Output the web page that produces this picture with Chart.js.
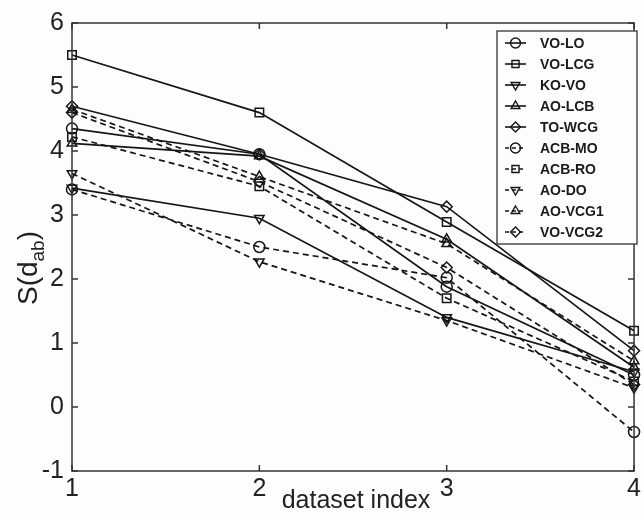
<!DOCTYPE html>
<html>
<head>
<meta charset="utf-8">
<script src="https://cdn.jsdelivr.net/npm/chart.js@4"></script>
<style>
  body { margin: 0; background: #fdfdfd; }
  #wrap { width: 644px; height: 513px; position: relative; }
</style>
</head>
<body>
<div id="wrap"><canvas id="chart"></canvas></div>
<script>
// dataset index on the x axis
const xIndex = [1, 2, 3, 4];
const seriesNames = ["VO-LO", "VO-LCG", "KO-VO", "AO-LCB", "TO-WCG",
                     "ACB-MO", "ACB-RO", "AO-DO", "AO-VCG1", "VO-VCG2"];

// S(d_ab) values
const voLo   = [4.35, 3.95, 1.88, 0.50];
const voLcg  = [5.50, 4.60, 2.89, 1.19];
const koVo   = [3.42, 2.95, 1.40, 0.55];
const aoLcb  = [4.12, 3.92, 2.62, 0.62];
const toWcg  = [4.70, 3.95, 3.13, 0.88];
const acbMo  = [3.40, 2.50, 2.02, -0.39];
const acbRo  = [4.22, 3.45, 1.70, 0.40];
const aoDo   = [3.65, 2.27, 1.35, 0.30];
const aoVcg1 = [4.65, 3.60, 2.55, 0.72];
const voVcg2 = [4.60, 3.52, 2.18, 0.35];

const seriesValues = [voLo, voLcg, koVo, aoLcb, toWcg, acbMo, acbRo, aoDo, aoVcg1, voVcg2];
const markerShapes = ["circle", "rect", "triangle", "triangle", "rectRot"];
const markerTurns  = [0, 0, 180, 0, 0];

const ink = "#151515";
const bg = "#fdfdfd";

const datasets = seriesValues.map((vals, i) => {
  const k = i % 5;
  const dashed = i >= 5;
  return {
    label: seriesNames[i],
    data: vals.map((v, j) => ({ x: xIndex[j], y: v })),
    borderColor: ink,
    borderWidth: 1.7,
    borderDash: dashed ? [6, 4] : [],
    pointStyle: markerShapes[k],
    rotation: markerTurns[k],
    pointRadius: markerShapes[k] === "rect" ? 6 : 5.5,
    pointBorderWidth: 1.5,
    pointBorderColor: ink,
    pointBackgroundColor: "rgba(0,0,0,0)",
    tension: 0,
    fill: false,
    clip: false
  };
});

const decor = {
  id: "decor",
  afterDraw(chart) {
    const ctx = chart.ctx;
    const a = chart.chartArea;
    const xs = chart.scales.x, ys = chart.scales.y;
    ctx.save();
    // axes box
    ctx.strokeStyle = "#333";
    ctx.lineWidth = 1.5;
    ctx.setLineDash([]);
    ctx.strokeRect(a.left, a.top, a.right - a.left, a.bottom - a.top);
    // inward ticks, matlab style
    ctx.beginPath();
    for (let v = -1; v <= 6; v++) {
      const y = ys.getPixelForValue(v);
      ctx.moveTo(a.left, y); ctx.lineTo(a.left + 6, y);
      ctx.moveTo(a.right, y); ctx.lineTo(a.right - 6, y);
    }
    for (let v = 1; v <= 4; v++) {
      const x = xs.getPixelForValue(v);
      ctx.moveTo(x, a.bottom); ctx.lineTo(x, a.bottom - 6);
      ctx.moveTo(x, a.top); ctx.lineTo(x, a.top + 6);
    }
    ctx.stroke();

    // x title
    ctx.fillStyle = "#222";
    ctx.font = "25px 'Liberation Sans', Arial, sans-serif";
    ctx.textAlign = "center";
    ctx.textBaseline = "alphabetic";
    ctx.fillText("dataset index", 356, 508);

    // y title S(d_ab)
    ctx.save();
    ctx.translate(37, 268);
    ctx.rotate(-Math.PI / 2);
    ctx.textAlign = "left";
    const big = "28px 'Liberation Sans', Arial, sans-serif";
    const small = "19px 'Liberation Sans', Arial, sans-serif";
    ctx.font = big;
    const w1 = ctx.measureText("S(d").width;
    ctx.font = small;
    const w2 = ctx.measureText("ab").width;
    ctx.font = big;
    const w3 = ctx.measureText(")").width;
    let x0 = -(w1 + w2 + w3) / 2;
    ctx.fillText("S(d", x0, 0);
    ctx.font = small;
    ctx.fillText("ab", x0 + w1, 7);
    ctx.font = big;
    ctx.fillText(")", x0 + w1 + w2, 0);
    ctx.restore();

    // legend
    const bx = 497, by = 31, bw = 140, bh = 213;
    ctx.fillStyle = bg;
    ctx.fillRect(bx, by, bw, bh);
    ctx.strokeStyle = "#333";
    ctx.lineWidth = 1.3;
    ctx.strokeRect(bx, by, bw, bh);
    ctx.font = "bold 14px 'Liberation Sans', Arial, sans-serif";
    ctx.textBaseline = "middle";
    chart.data.datasets.forEach((ds, i) => {
      const y = 43 + i * 21;
      ctx.strokeStyle = ink;
      ctx.lineWidth = 1.6;
      ctx.setLineDash(ds.borderDash.length ? [4, 3] : []);
      ctx.beginPath();
      ctx.moveTo(505, y); ctx.lineTo(526, y);
      ctx.stroke();
      ctx.setLineDash([]);
      ctx.lineWidth = 1.4;
      ctx.fillStyle = "rgba(0,0,0,0)";
      Chart.helpers.drawPoint(ctx, {
        pointStyle: ds.pointStyle,
        rotation: ds.rotation,
        radius: 5,
        borderWidth: 1.4
      }, 515.5, y);
      ctx.fillStyle = "#1a1a1a";
      ctx.textAlign = "left";
      ctx.fillText(ds.label, 540, y + 1);
    });
    ctx.restore();
  }
};

new Chart(document.getElementById("chart"), {
  type: "line",
  data: { datasets },
  options: {
    responsive: true,
    maintainAspectRatio: false,
    animation: false,
    layout: { padding: { top: 23, right: 5, left: 0, bottom: 0 } },
    plugins: { legend: { display: false }, tooltip: { enabled: false } },
    scales: {
      x: {
        type: "linear",
        min: 1, max: 4,
        ticks: {
          stepSize: 1,
          color: "#222",
          padding: 3,
          font: { size: 25, family: "'Liberation Sans', Arial, sans-serif" }
        },
        grid: { display: false, drawTicks: false },
        border: { display: false },
        afterFit(s) { s.height = 42; }
      },
      y: {
        min: -1, max: 6,
        ticks: {
          stepSize: 1,
          color: "#222",
          padding: 8,
          font: { size: 25, family: "'Liberation Sans', Arial, sans-serif" }
        },
        grid: { display: false, drawTicks: false },
        border: { display: false },
        afterFit(s) { s.width = 72; }
      }
    }
  },
  plugins: [decor]
});
</script>
</body>
</html>
